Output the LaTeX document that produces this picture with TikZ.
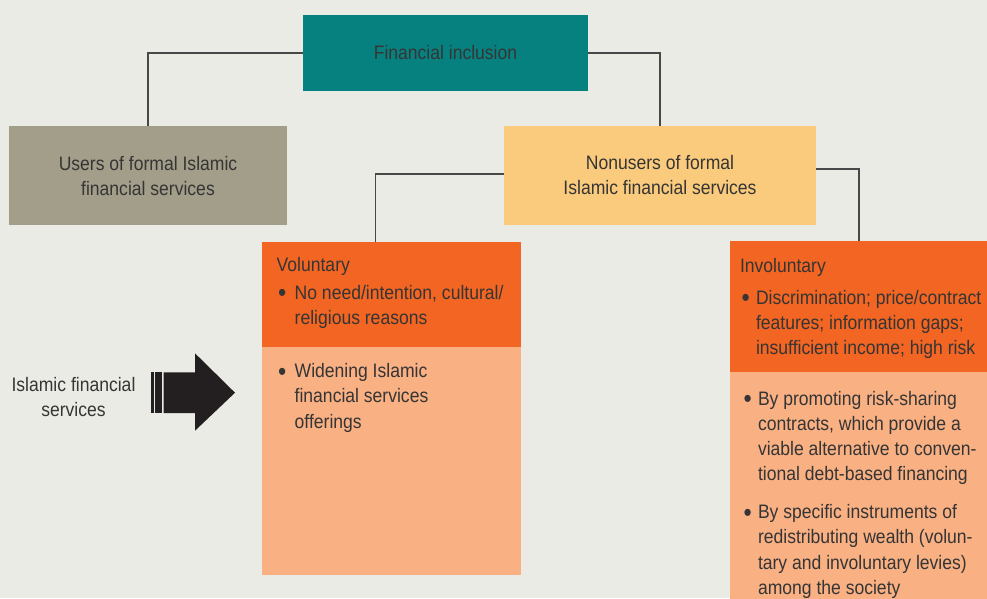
\documentclass[tikz,border=0pt]{standalone}
\usepackage{fontspec}
\setmainfont{Liberation Sans}[FakeStretch=0.9]
\definecolor{bgc}{HTML}{EBEBE5}
\definecolor{tealc}{HTML}{07817F}
\definecolor{usersc}{HTML}{A39E89}
\definecolor{nonusersc}{HTML}{FACB7C}
\definecolor{darko}{HTML}{F26522}
\definecolor{lighto}{HTML}{F9B083}
\definecolor{linec}{HTML}{484848}
\definecolor{textc}{HTML}{353535}
\definecolor{arrowc}{HTML}{231F20}
\newcommand{\bitem}[1][16pt]{\par\noindent\hangindent=#1\hangafter=1\makebox[#1][l]{\hspace{1.5pt}\raisebox{-2.8pt}{\fontsize{26pt}{0pt}\selectfont\textbullet}}}
\begin{document}
\begin{tikzpicture}[x=1pt,y=-1pt,
  panel/.style={draw=none, inner sep=0pt, outer sep=0pt},
  txt/.style={inner sep=0pt, outer sep=0pt, text=textc, font=\fontsize{19.5}{25.2}\selectfont},
  conn/.style={draw=linec, line width=1.3pt}]
\useasboundingbox (0,0) rectangle (987,598);
\fill[bgc] (0,0) rectangle (987,598);

% boxes
\node[panel, fill=tealc, minimum width=285pt, minimum height=76pt, anchor=north west,
      text=textc, font=\fontsize{19.5}{25.2}\selectfont] (fi) at (303,15) {Financial inclusion};
\node[panel, fill=usersc, minimum width=278pt, minimum height=98.7pt, anchor=north west] (users) at (9,126) {};
\node[panel, fill=nonusersc, minimum width=312pt, minimum height=99pt, anchor=north west] (nonusers) at (504,126) {};
\node[panel, fill=darko, minimum width=259pt, minimum height=105pt, anchor=north west] (vold) at (261.7,241.7) {};
\node[panel, fill=lighto, minimum width=259pt, minimum height=228.3pt, anchor=north west] (voll) at (261.7,346.7) {};
\node[panel, fill=darko, minimum width=258pt, minimum height=130.7pt, anchor=north west] (invd) at (730,241) {};
\node[panel, fill=lighto, minimum width=258pt, minimum height=227pt, anchor=north west] (invl) at (730,371.7) {};

% connectors
\draw[conn] (fi.west) -| (users.north);
\draw[conn] (fi.east) -| (nonusers.north);
\draw[conn] ([yshift=1.5pt]nonusers.west) -| ([xshift=-16pt]vold.north);
\draw[conn] ([yshift=6.5pt]nonusers.east) -| (invd.north);

% texts
\node[txt, anchor=base] (userst) at (148,170) {\parbox[t]{270pt}{\centering Users of formal Islamic\\financial services}};
\node[txt, anchor=base] (nonuserst) at (660,169) {\parbox[t]{300pt}{\centering Nonusers of formal\\Islamic financial services}};

\node[txt, anchor=base west] (voldt) at (276.7,271) {\parbox[t]{240pt}{\raggedright
  Voluntary\par\vspace{2.8pt}
  \bitem[18pt]No need/intention, cultural/\newline religious reasons}};
\node[txt, anchor=base west] (vollt) at (276.7,377.7) {\parbox[t]{240pt}{\raggedright
  \bitem[18pt]Widening Islamic\newline financial services\newline offerings}};

\node[txt, anchor=base west] (invdt) at (740,272.7) {\parbox[t]{245pt}{\raggedright
  Involuntary\par\vspace{6.1pt}
  \bitem Discrimination; price/contract\newline features; information gaps;\newline insufficient income; high risk}};
\node[txt, anchor=base west] (invlt) at (742,405) {\parbox[t]{243pt}{\raggedright
  \bitem By promoting risk-sharing\newline contracts, which provide a\newline viable alternative to conven-\newline tional debt-based financing\par\vspace{12.8pt}
  \bitem By specific instruments of\newline redistributing wealth (volun-\newline tary and involuntary levies)\newline among the society}};

\node[txt, anchor=base] (ifs) at (73.5,391) {\parbox[t]{140pt}{\centering Islamic financial\\services}};

% arrow
\fill[arrowc] (151,372.3) rectangle (153.8,413);
\fill[arrowc] (155.4,372.3) rectangle (162.2,413);
\fill[arrowc] (163.7,372.3) -- (195,372.3) -- (195,353.3) -- (235,392.7) -- (195,430.7) -- (195,413) -- (163.7,413) -- cycle;
\end{tikzpicture}
\end{document}
